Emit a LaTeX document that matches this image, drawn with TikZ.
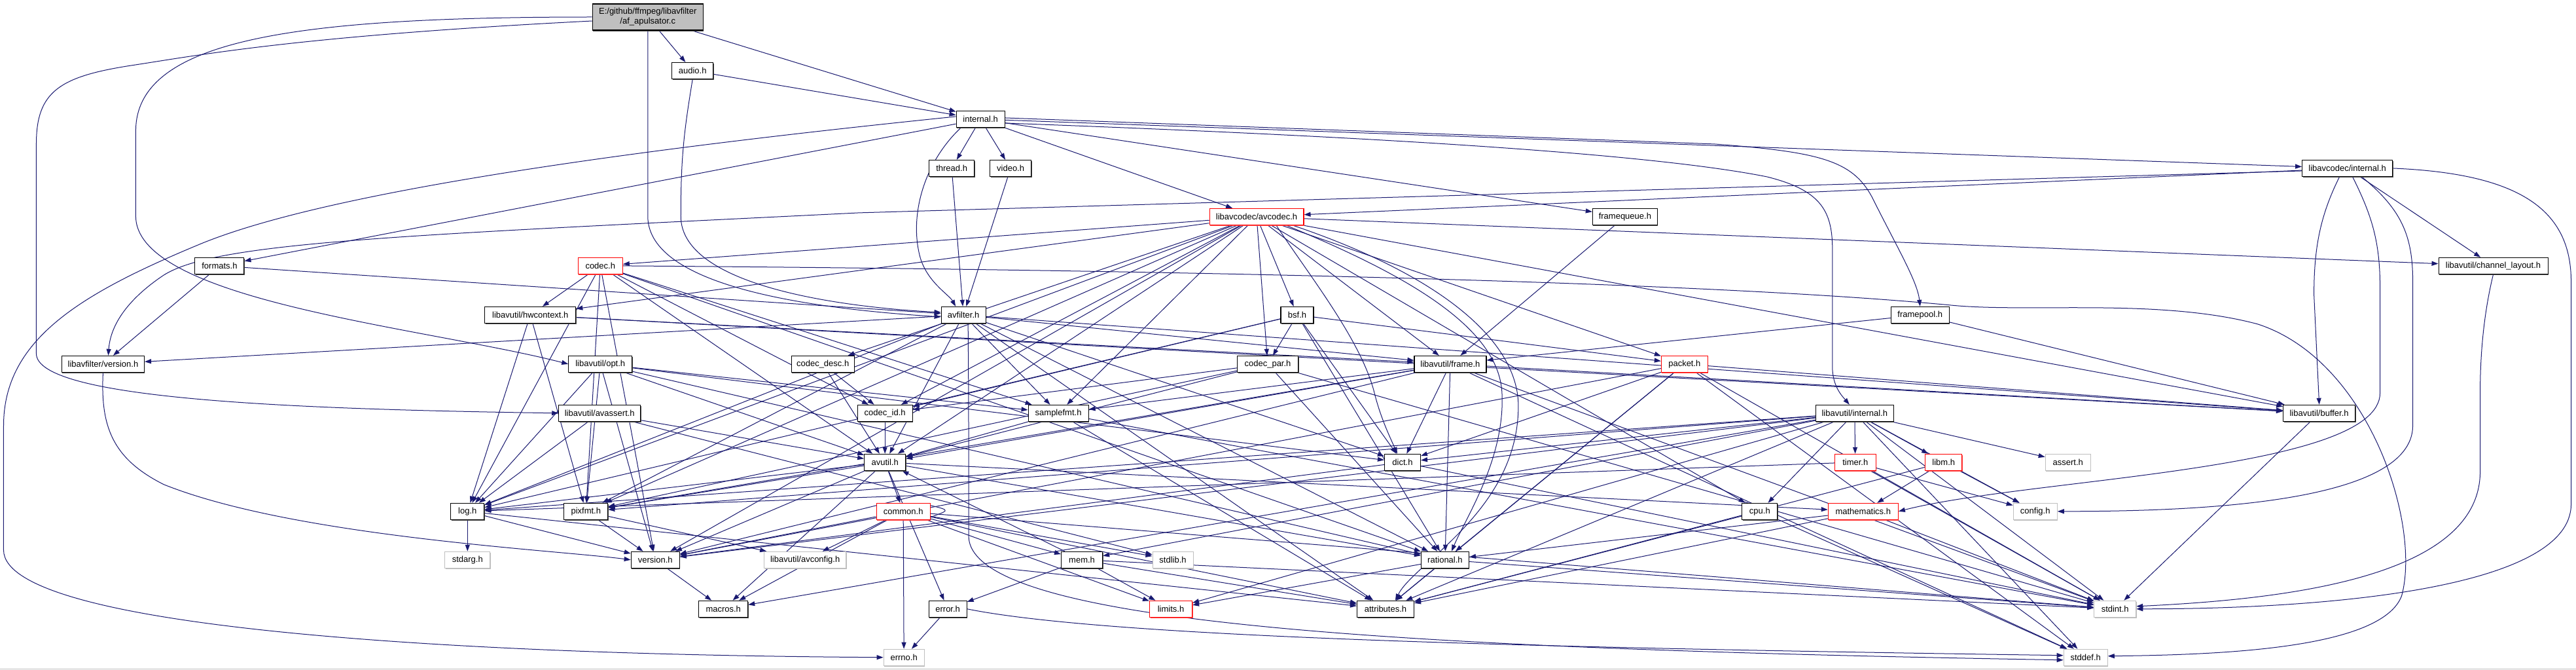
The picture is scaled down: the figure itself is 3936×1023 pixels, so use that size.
\documentclass[tikz,border=0pt]{standalone}
\usepackage{fontspec}
\setmainfont{Liberation Sans}
\usetikzlibrary{arrows.meta,shadows}
\pgfdeclarelayer{bg}
\pgfdeclarelayer{edges}
\pgfsetlayers{bg,edges,main}
\definecolor{edgecol}{HTML}{191970}
\definecolor{grayfill}{HTML}{BFBFBF}
\definecolor{lightborder}{HTML}{BFBFBF}
\tikzset{
  nb/.style={rectangle, draw=black, fill=white, line width=1.1pt, minimum height=25pt, inner sep=0pt, font=\fontsize{13}{15}\selectfont,
    drop shadow={shadow xshift=1pt, shadow yshift=-2pt, fill=black!70, opacity=1}},
  nred/.style={nb, draw=red, drop shadow={shadow xshift=1pt, shadow yshift=-2pt, fill=red!70, opacity=1}},
  ngray/.style={nb, draw=lightborder, drop shadow={shadow xshift=1pt, shadow yshift=-2pt, fill=lightborder, opacity=1}},
  dep/.style={draw=edgecol, line width=1pt, -{Triangle[length=10pt,width=7pt]}},
}
\begin{document}
\begin{tikzpicture}[x=1pt,y=-1pt]
\begin{pgfonlayer}{bg}
\fill[white] (0,0) rectangle (3936,1023);
\draw[lightborder, line width=1pt] (0,1022) -- (3936,1022);
\end{pgfonlayer}
\useasboundingbox (0,0) rectangle (3936,1023);
% nodes
\node[nb, fill=grayfill, minimum width=169pt, minimum height=40pt, align=center] (af) at (989.5,26) {E:/github/ffmpeg/libavfilter\\/af\_apulsator.c};
\node[nb, minimum width=63pt] (audio) at (1058,108) {audio.h};
\node[nb, minimum width=74pt] (internal) at (1498,182) {internal.h};
\node[nb, minimum width=69pt] (thread) at (1454,257) {thread.h};
\node[nb, minimum width=63pt] (video) at (1544,257) {video.h};
\node[nb, minimum width=138pt] (lacint) at (3587,257) {libavcodec/internal.h};
\node[nred, minimum width=144pt] (avcodec) at (1920,331) {libavcodec/avcodec.h};
\node[nb, minimum width=99pt] (framequeue) at (2483,331) {framequeue.h};
\node[nb, minimum width=75pt] (formats) at (335,406) {formats.h};
\node[nred, minimum width=68pt] (codec) at (917,406) {codec.h};
\node[nb, minimum width=167pt] (chlayout) at (3810,406) {libavutil/channel\_layout.h};
\node[nb, minimum width=139pt] (hwcontext) at (810,481) {libavutil/hwcontext.h};
\node[nb, minimum width=68pt] (avfilter) at (1472,481) {avfilter.h};
\node[nb, minimum width=50pt] (bsf) at (1982,481) {bsf.h};
\node[nb, minimum width=89pt] (framepool) at (2934,481) {framepool.h};
\node[nb, minimum width=126pt] (lfversion) at (157,556) {libavfilter/version.h};
\node[nb, minimum width=97pt] (opt) at (917,556) {libavutil/opt.h};
\node[nb, minimum width=96pt] (codecdesc) at (1257,556) {codec\_desc.h};
\node[nb, minimum width=93pt] (codecpar) at (1937,556) {codec\_par.h};
\node[nb, minimum width=110pt] (frame) at (2216,556) {libavutil/frame.h};
\node[nred, minimum width=71pt] (packet) at (2574,556) {packet.h};
\node[nb, minimum width=125pt] (avassert) at (916,631) {libavutil/avassert.h};
\node[nb, minimum width=84pt] (codecid) at (1352,631) {codec\_id.h};
\node[nb, minimum width=92pt] (samplefmt) at (1617,631) {samplefmt.h};
\node[nb, minimum width=119pt] (lavuint) at (2834,631) {libavutil/internal.h};
\node[nb, minimum width=110pt] (buffer) at (3544,631) {libavutil/buffer.h};
\node[nb, minimum width=63pt] (avutil) at (1352,706) {avutil.h};
\node[nb, minimum width=55pt] (dict) at (2143,706) {dict.h};
\node[nred, minimum width=63pt] (timer) at (2835,706) {timer.h};
\node[nred, minimum width=56pt] (libm) at (2970,706) {libm.h};
\node[ngray, minimum width=69pt] (assert) at (3160,706) {assert.h};
\node[nb, minimum width=51pt] (log) at (714,781) {log.h};
\node[nb, minimum width=67pt] (pixfmt) at (895,781) {pixfmt.h};
\node[nred, minimum width=82pt] (common) at (1380,781) {common.h};
\node[nb, minimum width=54pt] (cpu) at (2689,781) {cpu.h};
\node[nred, minimum width=107pt] (mathematics) at (2847,781) {mathematics.h};
\node[ngray, minimum width=67pt] (config) at (3110,781) {config.h};
\node[ngray, minimum width=69pt] (stdarg) at (714,855) {stdarg.h};
\node[nb, minimum width=74pt] (version) at (1001,855) {version.h};
\node[ngray, minimum width=125pt] (avconfig) at (1230,855) {libavutil/avconfig.h};
\node[nb, minimum width=63pt] (mem) at (1653,855) {mem.h};
\node[ngray, minimum width=62pt] (stdlib) at (1792,855) {stdlib.h};
\node[nb, minimum width=73pt] (rational) at (2208,855) {rational.h};
\node[nb, minimum width=75pt] (macros) at (1105,930) {macros.h};
\node[nb, minimum width=58pt] (error) at (1448,930) {error.h};
\node[nred, minimum width=65pt] (limits) at (1789,930) {limits.h};
\node[nb, minimum width=87pt] (attributes) at (2117,930) {attributes.h};
\node[ngray, minimum width=64pt] (stdint) at (3232,930) {stdint.h};
\node[ngray, minimum width=62pt] (errno) at (1381,1004) {errno.h};
\node[ngray, minimum width=67pt] (stddef) at (3187,1004) {stddef.h};
% edges
\begin{pgfonlayer}{edges}
\foreach \s/\t in {af/audio, af/internal, audio/internal,
  internal/thread, internal/video, internal/avcodec, internal/framequeue, internal/formats, internal/lacint,
  thread/avfilter, video/avfilter,
  lacint/avcodec, lacint/chlayout,
  framequeue/frame, framepool/frame, framepool/buffer,
  formats/avfilter, formats/lfversion,
  codec/hwcontext, codec/log, codec/pixfmt, codec/avutil, codec/rational, codec/samplefmt, codec/codecid, codec/version,
  avcodec/codec, avcodec/hwcontext, avcodec/log, avcodec/pixfmt, avcodec/version, avcodec/codecdesc, avcodec/codecid,
  avcodec/samplefmt, avcodec/avutil, avcodec/codecpar, avcodec/bsf, avcodec/frame,
  avcodec/cpu, avcodec/packet, avcodec/buffer, avcodec/chlayout,
  hwcontext/buffer, hwcontext/frame, hwcontext/log, hwcontext/pixfmt,
  avfilter/attributes, avfilter/avutil, avfilter/buffer, avfilter/dict, avfilter/frame, avfilter/log,
  avfilter/samplefmt, avfilter/pixfmt, avfilter/rational, avfilter/lfversion,
  bsf/dict, bsf/log, bsf/rational, bsf/codecid, bsf/codecpar, bsf/packet,
  codecdesc/avutil, codecdesc/codecid,
  codecpar/stdint, codecpar/avutil, codecpar/rational, codecpar/pixfmt, codecpar/codecid,
  codecid/avutil,
  packet/stddef, packet/stdint, packet/attributes, packet/buffer, packet/dict, packet/rational, packet/version,
  frame/stddef, frame/stdint, frame/avutil, frame/buffer, frame/dict, frame/rational, frame/samplefmt, frame/pixfmt, frame/version,
  opt/rational, opt/avutil, opt/dict, opt/log, opt/pixfmt, opt/samplefmt, opt/version,
  avassert/stdlib, avassert/avutil, avassert/log,
  samplefmt/stdint, samplefmt/avutil, samplefmt/attributes,
  lavuint/limits, lavuint/stdint, lavuint/stddef, lavuint/assert, lavuint/config, lavuint/attributes, lavuint/timer,
  lavuint/cpu, lavuint/dict, lavuint/macros, lavuint/mem, lavuint/pixfmt, lavuint/version, lavuint/libm, lavuint/log,
  timer/config, timer/stdint, timer/log,
  libm/config, libm/attributes, libm/mathematics,
  avutil/common, avutil/error, avutil/rational, avutil/version, avutil/macros, avutil/mathematics, avutil/log, avutil/pixfmt,
  dict/stdint, dict/version,
  log/stdarg, log/attributes, log/version,
  pixfmt/avconfig, pixfmt/version,
  common/errno, common/limits, common/stdint, common/stdlib, common/attributes, common/macros, common/version,
  common/avconfig, common/mem,
  cpu/stddef, cpu/attributes,
  mathematics/stdint, mathematics/attributes, mathematics/rational,
  mem/limits, mem/stdint, mem/attributes, mem/error, mem/avutil,
  rational/stdint, rational/limits, rational/attributes,
  version/macros, error/errno, buffer/stdint}
  \draw[dep] (\s) -- (\t);
% routed edges
\draw[dep] ([xshift=30pt]avcodec.south) .. controls (2000,420) and (2080,520) .. (2100,600) .. controls (2110,640) and (2125,670) .. ([xshift=-8pt]dict.north);
\draw[dep] ([xshift=45pt]avcodec.south) .. controls (2150,420) and (2290,500) .. (2295,600) .. controls (2300,700) and (2240,790) .. ([xshift=10pt]rational.north);
\draw[dep] ([xshift=55pt]avcodec.south) .. controls (2200,420) and (2320,520) .. (2320,620) .. controls (2320,780) and (2160,860) .. ([xshift=15pt]attributes.north);
\draw[dep] (af.south) -- (989.5,330) .. controls (989.5,440) and (1250,472) .. ([yshift=-3pt]avfilter.west);
\draw[dep] (af.west) .. controls (450,26) and (207,60) .. (207,200) -- (207,330) .. controls (207,460) and (650,500) .. (opt.west);
\draw[dep] ([yshift=-6pt]af.west) .. controls (450,55) and (300,85) .. (200,100) .. controls (90,117) and (55,140) .. (55,220) -- (55,540) .. controls (55,610) and (450,625) .. (avassert.west);
\draw[dep] (audio.south) .. controls (1045,200) and (1040,240) .. (1040,330) .. controls (1040,440) and (1300,470) .. ([yshift=4pt]avfilter.west);
\draw[dep] ([xshift=-30pt]internal.south) .. controls (1410,250) and (1390,330) .. (1405,390) .. controls (1415,430) and (1450,450) .. ([xshift=-12pt]avfilter.north);
\draw[dep] ([yshift=4pt]internal.west) .. controls (1000,225) and (500,290) .. (300,375) .. controls (120,450) and (5,520) .. (5,650) -- (5,840) .. controls (5,960) and (700,1000) .. (errno.west);
\draw[dep] ([yshift=2pt]internal.east) -- (2620,220) .. controls (2780,232) and (2830,245) .. (2860,300) .. controls (2900,380) and (2930,430) .. (framepool.north);
\draw[dep] ([yshift=-6pt]internal.east) .. controls (2000,205) and (2500,230) .. (2700,270) .. controls (2780,290) and (2800,320) .. (2800,380) -- (2800,560) .. controls (2800,590) and (2815,605) .. ([xshift=-8pt]lavuint.north);
\draw[dep] ([yshift=-4pt]lacint.west) -- (1312,325) .. controls (600,360) and (330,370) .. (250,420) .. controls (190,460) and (168,500) .. ([xshift=8pt]lfversion.north);
\draw[dep] ([xshift=-12pt]lacint.south) .. controls (3545,330) and (3536,380) .. (3536,450) -- (buffer.north);
\draw[dep] ([xshift=8pt]lacint.south) .. controls (3625,330) and (3637,370) .. (3637,440) -- (3637,600) .. controls (3637,720) and (3100,730) .. (mathematics.east);
\draw[dep] ([xshift=22pt]lacint.south) .. controls (3670,320) and (3687,360) .. (3687,430) -- (3687,650) .. controls (3687,770) and (3350,781) .. (config.east);
\draw[dep] (lacint.east) .. controls (3850,265) and (3929,320) .. (3929,430) -- (3929,770) .. controls (3929,900) and (3550,930) .. (stdint.east);
\draw[dep] (chlayout.south) .. controls (3800,460) and (3790,520) .. (3790,600) -- (3790,720) .. controls (3790,880) and (3500,915) .. ([yshift=4pt]stdint.east);
\draw[dep] (codec.east) .. controls (1800,412) and (2600,430) .. (2980,466) .. controls (3100,478) and (3300,455) .. (3450,495) .. controls (3620,550) and (3700,800) .. (3670,910) .. controls (3640,990) and (3400,1000) .. ([yshift=2pt]stddef.east);
\draw[dep] ([xshift=7pt]avfilter.south) .. controls (1480,600) and (1480,700) .. (1480,820) .. controls (1485,950) and (2100,990) .. ([yshift=-4pt]stddef.west);
\draw[dep] (error.east) .. controls (1700,975) and (2400,990) .. ([yshift=3pt]stddef.west);
\draw[dep] (lfversion.south) .. controls (153,650) and (170,700) .. (250,740) .. controls (450,820) and (850,840) .. (version.west);
\draw[dep] ([yshift=-4pt]common.north east) .. controls +(35,8) and +(35,-14) .. ([xshift=-10pt]common.south east);
\end{pgfonlayer}
\end{tikzpicture}
\end{document}
